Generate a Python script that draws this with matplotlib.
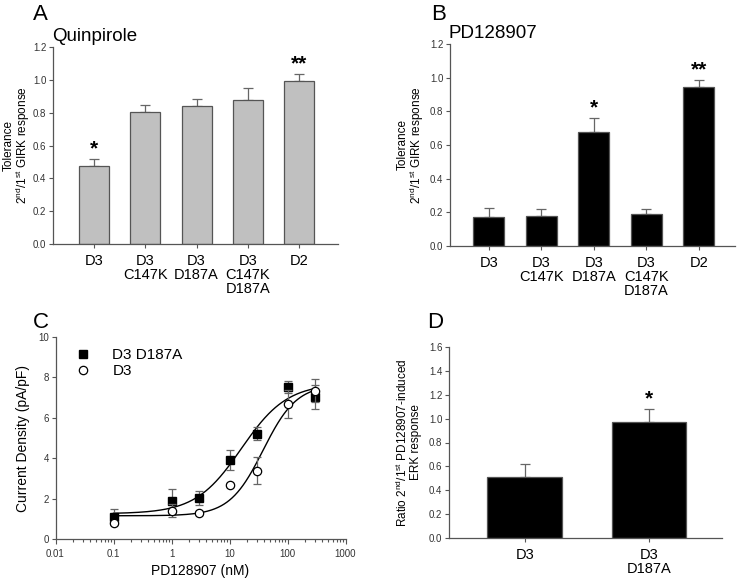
import numpy as np
import matplotlib
matplotlib.use("Agg")
import matplotlib.pyplot as plt
from matplotlib.ticker import LogLocator, FixedLocator, NullFormatter
from matplotlib.lines import Line2D

plt.rcParams['font.family'] = ['Liberation Sans', 'DejaVu Sans']
plt.rcParams['mathtext.default'] = 'regular'

# ---- Data ----
catA = ["D3", "D3\nC147K", "D3\nD187A", "D3\nC147K\nD187A", "D2"]
valA = [0.478, 0.803, 0.838, 0.880, 0.993]
errA = [0.040, 0.043, 0.048, 0.068, 0.040]
starA = ["*", "", "", "", "**"]

catB = ["D3", "D3\nC147K", "D3\nD187A", "D3\nC147K\nD187A", "D2"]
valB = [0.172, 0.180, 0.680, 0.188, 0.944]
errB = [0.054, 0.042, 0.078, 0.030, 0.040]
starB = ["", "", "*", "", "**"]

concC = [0.1, 1, 3, 10, 30, 100, 300]
mutC = [1.11, 1.90, 2.05, 3.93, 5.21, 7.51, 7.03]
mutErrC = [0.38, 0.60, 0.35, 0.50, 0.33, 0.30, 0.60]
wtC = [0.77, 1.39, 1.30, 2.67, 3.39, 6.69, 7.34]
wtErrC = [0.10, 0.32, 0.10, 0.10, 0.68, 0.70, 0.56]
# Hill fit parameters (bottom, top, EC50 nM, slope)
mutFit = [1.25, 7.7, 16.0, 1.1]
wtFit = [1.15, 7.65, 38.0, 1.5]

catD = ["D3", "D3\nD187A"]
valD = [0.508, 0.972]
errD = [0.108, 0.108]
starD = ["", "*"]

W, H = 740, 582
fig = plt.figure(figsize=(W / 100, H / 100), dpi=100)

def ax_px(l, t, r, b):
    return fig.add_axes([l / W, 1 - b / H, (r - l) / W, (b - t) / H])

spine_col = "#555555"

def style(ax):
    for s in ["top", "right"]:
        ax.spines[s].set_visible(False)
    for s in ["left", "bottom"]:
        ax.spines[s].set_color(spine_col)
        ax.spines[s].set_linewidth(0.9)
    ax.tick_params(axis="both", which="both", direction="out", color=spine_col, width=0.8)
    ax.tick_params(axis="y", labelsize=7, length=3, pad=1.8, labelcolor="#333333")

def bar_panel(ax, cats, vals, errs, stars, color, xlim, ylim, yticks, bw, sfont):
    x = np.arange(len(cats))
    ax.bar(x, vals, width=bw, color=color, edgecolor="#555555", linewidth=0.9, zorder=2)
    ax.errorbar(x, vals, yerr=[np.zeros(len(vals)), errs], fmt="none",
                ecolor="#666666", elinewidth=0.9, capsize=3.5, capthick=0.9, zorder=1)
    for xi, v, e, s in zip(x, vals, errs, stars):
        if s:
            ax.text(xi, v + e + 0.005 * (ylim[1]), s, ha="center", va="bottom",
                    fontsize=sfont, fontweight="bold")
    ax.set_xlim(*xlim)
    ax.set_ylim(*ylim)
    ax.set_yticks(yticks)
    ax.set_yticklabels([f"{t:.1f}" for t in yticks])
    ax.set_xticks(x)
    ax.set_xticklabels(cats, fontsize=10.5, linespacing=1.0)
    ax.tick_params(axis="x", length=3, pad=4)

def ylabel_px(ax, text, right_px, left_px, width_px, fs):
    ax.set_ylabel(text, fontsize=fs, linespacing=0.95)
    ax.yaxis.set_label_coords((right_px - left_px) / width_px, 0.5)

# Panel A
axA = ax_px(53, 47, 338, 244)
style(axA)
bar_panel(axA, catA, valA, errA, starA, "#c0c0c0", (-0.8, 4.76), (0, 1.2),
          np.arange(0, 1.21, 0.2), 0.585, 15)
ylabel_px(axA, "Tolerance\n" + r"2$^{nd}$/1$^{st}$ GIRK response", 32, 53, 285, 8.5)
fig.text(33 / W, 1 - 20 / H, "A", fontsize=16)
fig.text(52 / W, 1 - 41 / H, "Quinpirole", fontsize=13.5)

# Panel B
axB = ax_px(450, 44, 735, 246)
style(axB)
bar_panel(axB, catB, valB, errB, starB, "black", (-0.74, 4.69), (0, 1.2),
          np.arange(0, 1.21, 0.2), 0.59, 15)
ylabel_px(axB, "Tolerance\n" + r"2$^{nd}$/1$^{st}$ GIRK response", 426, 450, 285, 8.5)
fig.text(431 / W, 1 - 20 / H, "B", fontsize=16)
fig.text(448 / W, 1 - 38 / H, "PD128907", fontsize=13.5)

# Panel C
axC = ax_px(55.5, 337, 345.5, 539)
style(axC)
axC.set_xscale("log")
axC.set_xlim(0.01, 1000)
axC.set_ylim(0, 10)
xs = np.logspace(-1, np.log10(300), 300)
def hill(x, p):
    b, t, ec, n = p
    return b + (t - b) / (1 + (ec / x) ** n)
axC.plot(xs, hill(xs, mutFit), color="black", lw=1.0, zorder=2)
axC.plot(xs, hill(xs, wtFit), color="black", lw=1.0, zorder=2)
axC.errorbar(concC, mutC, yerr=mutErrC, fmt="s", color="black", mfc="black", mec="black",
             ms=5.5, ecolor="#666666", elinewidth=0.9, capsize=3, capthick=0.9, zorder=3)
axC.errorbar(concC, wtC, yerr=wtErrC, fmt="o", color="black", mfc="white", mec="black",
             ms=6, mew=0.9, ecolor="#666666", elinewidth=0.9, capsize=3, capthick=0.9,
             zorder=4)
axC.set_yticks([0, 2, 4, 6, 8, 10])
axC.xaxis.set_major_locator(FixedLocator([0.01, 0.1, 1, 10, 100, 1000]))
axC.set_xticklabels(["0.01", "0.1", "1", "10", "100", "1000"])
axC.xaxis.set_minor_locator(LogLocator(base=10, subs=np.arange(2, 10), numticks=20))
axC.xaxis.set_minor_formatter(NullFormatter())
axC.tick_params(axis="x", which="major", labelsize=7, length=3.5, labelcolor="#333333")
axC.tick_params(axis="x", which="minor", length=2)
axC.set_xlabel("PD128907 (nM)", fontsize=10)
axC.set_ylabel("Current Density (pA/pF)", fontsize=10)
axC.yaxis.set_label_coords((30 - 55.5) / 290, 0.5)
handles = [Line2D([], [], ls="none", marker="s", ms=5.5, mfc="black", mec="black"),
           Line2D([], [], ls="none", marker="o", ms=6, mfc="white", mec="black", mew=0.9)]
axC.legend(handles, ["D3 D187A", "D3"], loc="upper left", frameon=False, fontsize=11,
           handletextpad=1.4, borderaxespad=0.0, bbox_to_anchor=(0.07, 0.945),
           labelspacing=0.15, handlelength=1.0, borderpad=0.0)
fig.text(33 / W, 1 - 328 / H, "C", fontsize=16)

# Panel D
axD = ax_px(449, 347, 722, 538)
style(axD)
bar_panel(axD, catD, valD, errD, starD, "black", (-0.61, 1.59), (0, 1.6),
          np.arange(0, 1.61, 0.2), 0.6, 15)
ylabel_px(axD, r"Ratio 2$^{nd}$/1$^{st}$ PD128907-induced" + "\nERK response", 422, 449, 273, 8.5)
fig.text(427 / W, 1 - 328 / H, "D", fontsize=16)

fig.savefig("out.png", dpi=100)
